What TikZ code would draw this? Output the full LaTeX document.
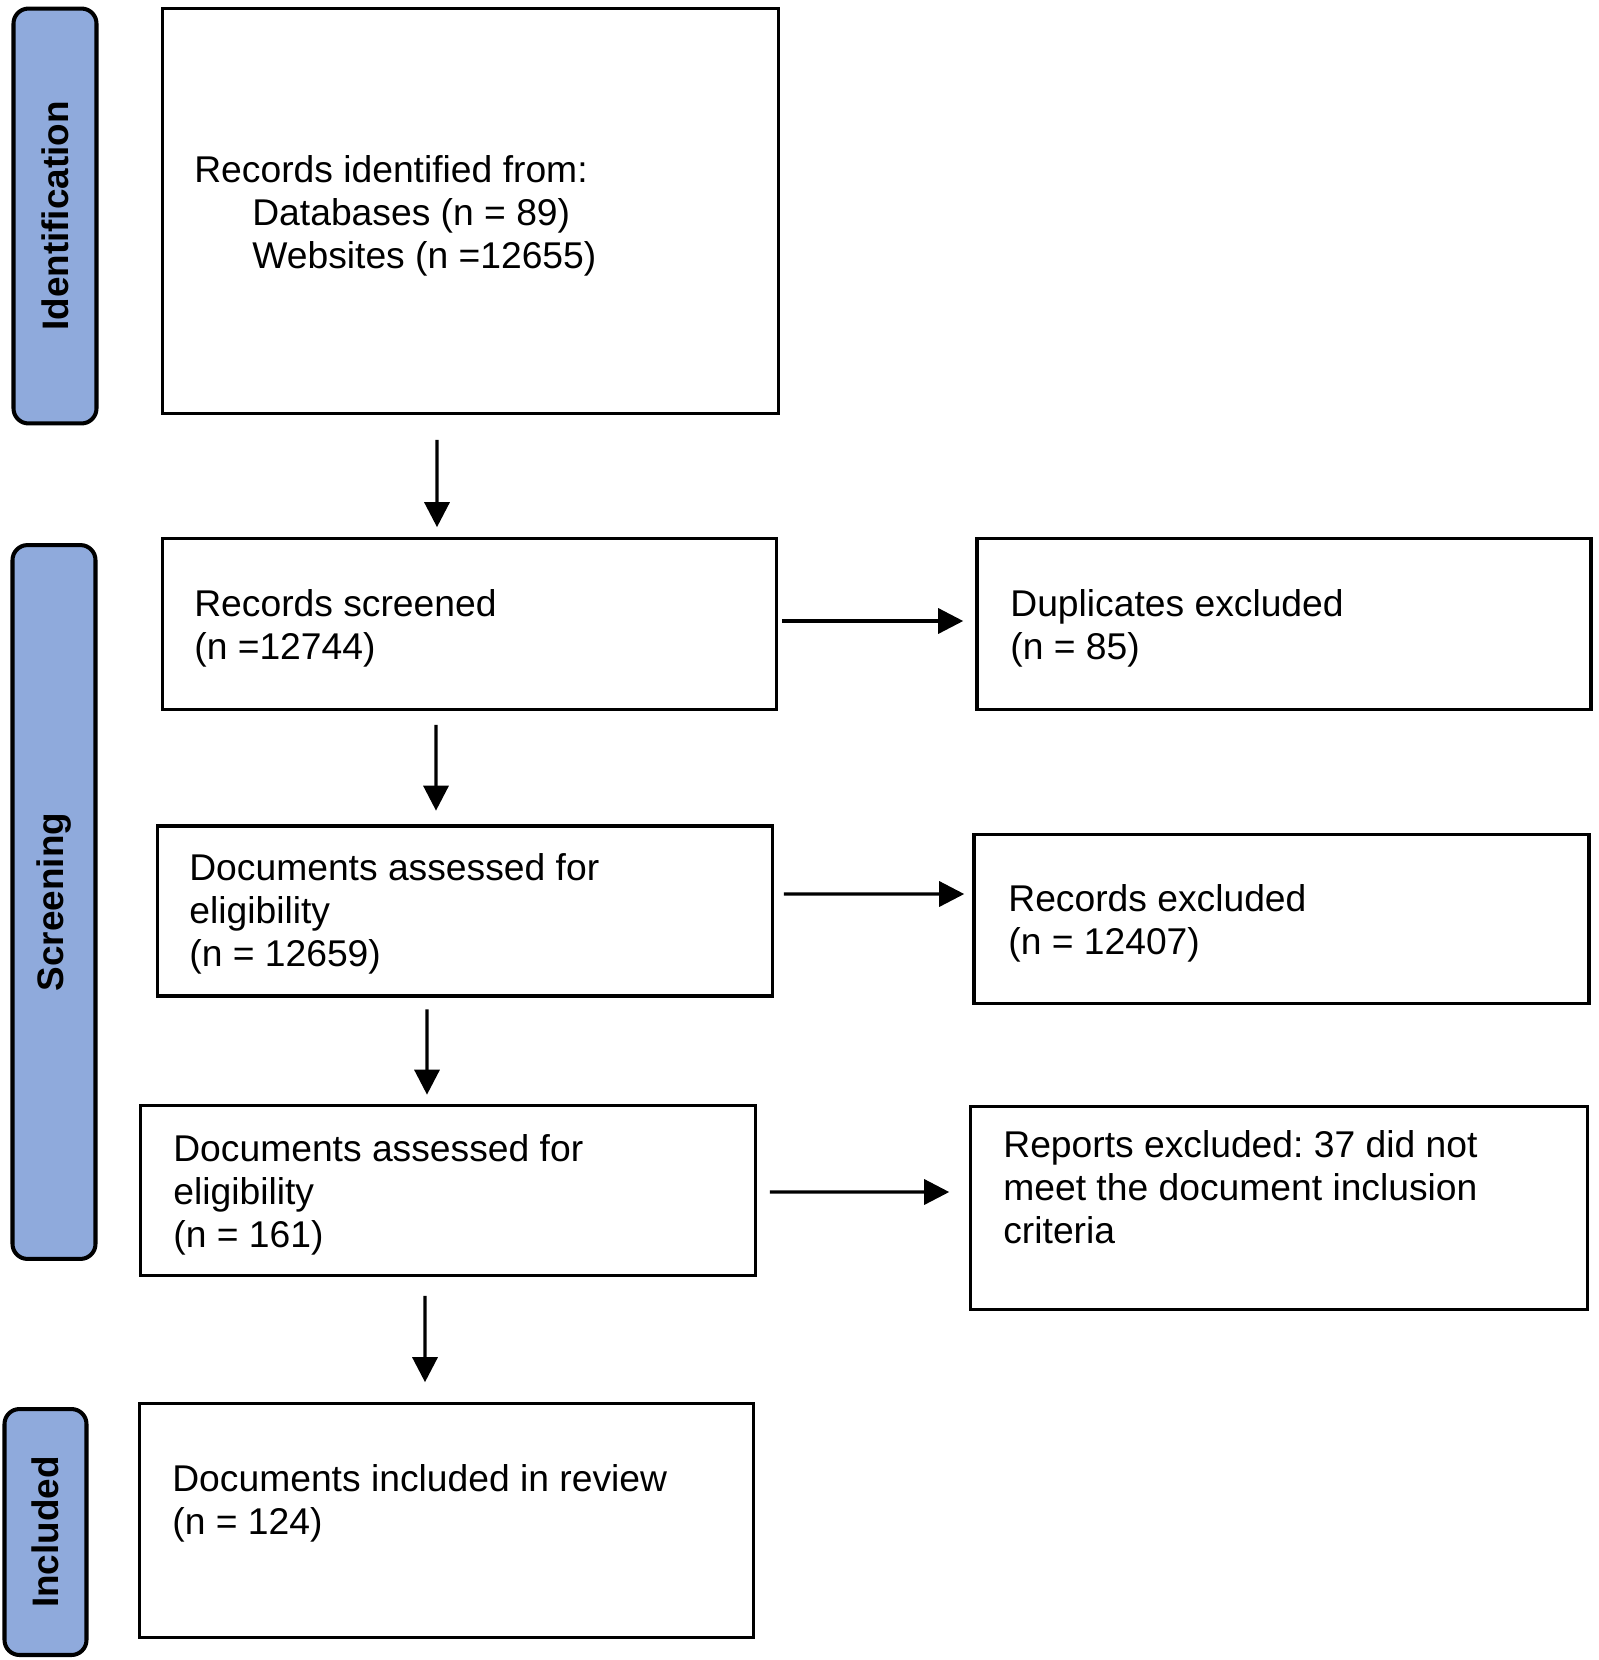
\documentclass[tikz,border=0pt]{standalone}
\usepackage{fontspec}
\setmainfont{Liberation Sans}
\frenchspacing
\usetikzlibrary{arrows.meta}
\definecolor{stageblue}{HTML}{8FAADC}
\tikzset{%
  stage/.style={draw=black,line width=2.3pt,fill=stageblue,
    rounded corners=0.3cm,rotate=90,inner sep=0pt,
    font=\bfseries\fontsize{21}{24}\selectfont},%
  flowbox/.style={draw=black,line width=2.1pt,inner sep=0pt},%
  flowtext/.style={anchor=base west,align=left,inner sep=0pt,
    font=\fontsize{21.2}{24.3}\selectfont},%
  flow/.style={-{Triangle[length=0.5cm,width=0.5cm]},line width=1.9pt}%
}

\begin{document}
\begin{tikzpicture}[x=0.02cm,y=-0.02cm]
\useasboundingbox (0,0) rectangle (1599,1660);

% stages
\node[stage,minimum width=8.3cm,minimum height=1.66cm] (ident) at (55,216) {Identification};
\node[stage,minimum width=14.28cm,minimum height=1.66cm] (screen) at (54,902) {Screening};
\node[stage,minimum width=4.92cm,minimum height=1.64cm] (incl) at (45.5,1532) {Included};

% boxes
\node[flowbox,minimum width=12.32cm,minimum height=8.1cm] (found) at (470.5,211) {};
\node[flowbox,minimum width=12.28cm,minimum height=3.42cm] (screened) at (469.5,624) {};
\node[flowbox,minimum width=12.28cm,minimum height=3.42cm] (dupl) at (1284,624) {};
\node[flowbox,minimum width=12.3cm,minimum height=3.4cm] (assessA) at (465,911) {};
\node[flowbox,minimum width=12.3cm,minimum height=3.38cm] (recex) at (1281.5,919) {};
\node[flowbox,minimum width=12.3cm,minimum height=3.4cm] (assessB) at (448,1190.5) {};
\node[flowbox,minimum width=12.34cm,minimum height=4.06cm] (repex) at (1279,1208) {};
\node[flowbox,minimum width=12.28cm,minimum height=4.68cm] (review) at (446.5,1520.5) {};

% texts (placed at the baseline of their last line)
\node[flowtext] (foundtxt) at (194,268) {Records identified from:\\
  \hspace*{1.16cm}Databases (n = 89)\\ \hspace*{1.16cm}Websites (n =12655)};
\node[flowtext] (screenedtxt) at (194,659) {Records screened\\(n =12744)};
\node[flowtext] (dupltxt) at (1010,659) {Duplicates excluded\\(n = 85)};
\node[flowtext] (assessAtxt) at (189,966) {Documents assessed for\\eligibility\\(n = 12659)};
\node[flowtext] (recextxt) at (1008,954) {Records excluded\\(n = 12407)};
\node[flowtext] (assessBtxt) at (173,1247) {Documents assessed for\\eligibility\\(n = 161)};
\node[flowtext] (repextxt) at (1003,1243) {Reports excluded: 37 did not\\meet the document inclusion\\criteria};
\node[flowtext] (reviewtxt) at (172,1534) {Documents included in review\\(n = 124)};

% arrows
\draw[flow,shorten <=0.49cm,shorten >=0.19cm] ([xshift=-0.67cm]found.south) -- ([xshift=-0.65cm]screened.north);
\draw[flow,shorten <=0.27cm,shorten >=0.27cm] ([xshift=-0.67cm]screened.south) -- ([xshift=-0.58cm]assessA.north);
\draw[flow,shorten <=0.23cm,shorten >=0.18cm] ([xshift=-0.76cm]assessA.south) -- ([xshift=-0.42cm]assessB.north);
\draw[flow,shorten <=0.37cm,shorten >=0.39cm] ([xshift=-0.46cm]assessB.south) -- ([xshift=-0.43cm]review.north);
\draw[flow,shorten <=0.07cm,shorten >=0.24cm] ([yshift=0.06cm]screened.east) -- ([yshift=0.06cm]dupl.west);
\draw[flow,shorten <=0.19cm,shorten >=0.16cm] ([yshift=0.34cm]assessA.east) -- ([yshift=0.5cm]recex.west);
\draw[flow,shorten <=0.25cm,shorten >=0.39cm] ([yshift=-0.03cm]assessB.east) -- ([yshift=0.32cm]repex.west);
\end{tikzpicture}
\end{document}
